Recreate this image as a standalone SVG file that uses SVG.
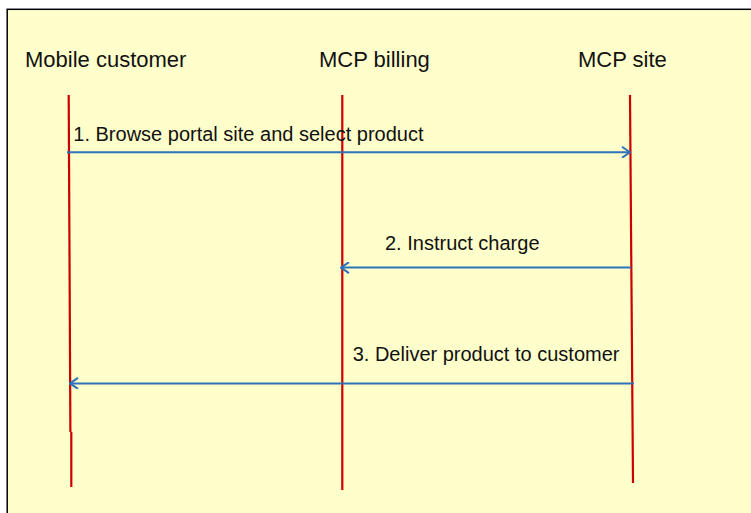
<svg xmlns="http://www.w3.org/2000/svg" width="751" height="513" viewBox="0 0 751 513">
  <style>
    .title { font-family: "Liberation Sans", Arial, sans-serif; font-size: 22px; fill: #111111; }
    .msg { font-family: "Liberation Sans", Arial, sans-serif; font-size: 20px; fill: #111111; }
    .life { stroke: #CC0000; stroke-width: 2.2; fill: none; }
    .arrow { stroke: #2E72BA; stroke-width: 2; fill: none; }
  </style>
  <defs>
    <marker id="chev" viewBox="0 0 10 12" refX="9" refY="6" markerWidth="10" markerHeight="12" markerUnits="userSpaceOnUse" orient="auto">
      <path d="M1,0.5 L9,6 L1,11.5" fill="none" stroke="#2E72BA" stroke-width="2"/>
    </marker>
  </defs>
  <rect x="0" y="0" width="751" height="513" fill="#ffffff"/>
  <rect x="7.2" y="9.3" width="760" height="520" fill="#FFFFCC" stroke="#000000" stroke-width="1.5"/>

  <g id="node-mobile-customer">
    <text class="title" x="25" y="67">Mobile customer</text>
    <line class="life" x1="68.7" y1="95" x2="70.4" y2="432" stroke-width="2.6"/>
    <line class="life" x1="71.3" y1="432" x2="71.3" y2="487" stroke-width="1.8"/>
  </g>
  <g id="node-mcp-billing">
    <text class="title" x="319" y="67">MCP billing</text>
    <line class="life" x1="342.3" y1="95" x2="342.3" y2="490"/>
  </g>
  <g id="node-mcp-site">
    <text class="title" x="578" y="67">MCP site</text>
    <line class="life" x1="630" y1="95" x2="633" y2="483"/>
  </g>

  <g id="connectors">
    <g id="msg1">
      <line class="arrow" x1="67" y1="152.3" x2="630" y2="152.3" marker-end="url(#chev)"/>
      <text class="msg" x="73.3" y="141">1. Browse portal site and select product</text>
    </g>
    <g id="msg2">
      <line class="arrow" x1="631" y1="267.6" x2="341" y2="267.6" marker-end="url(#chev)"/>
      <text class="msg" x="385" y="250">2. Instruct charge</text>
    </g>
    <g id="msg3">
      <line class="arrow" x1="634" y1="383.4" x2="70" y2="383.4" marker-end="url(#chev)"/>
      <text class="msg" x="352.7" y="361">3. Deliver product to customer</text>
    </g>
  </g>
</svg>
